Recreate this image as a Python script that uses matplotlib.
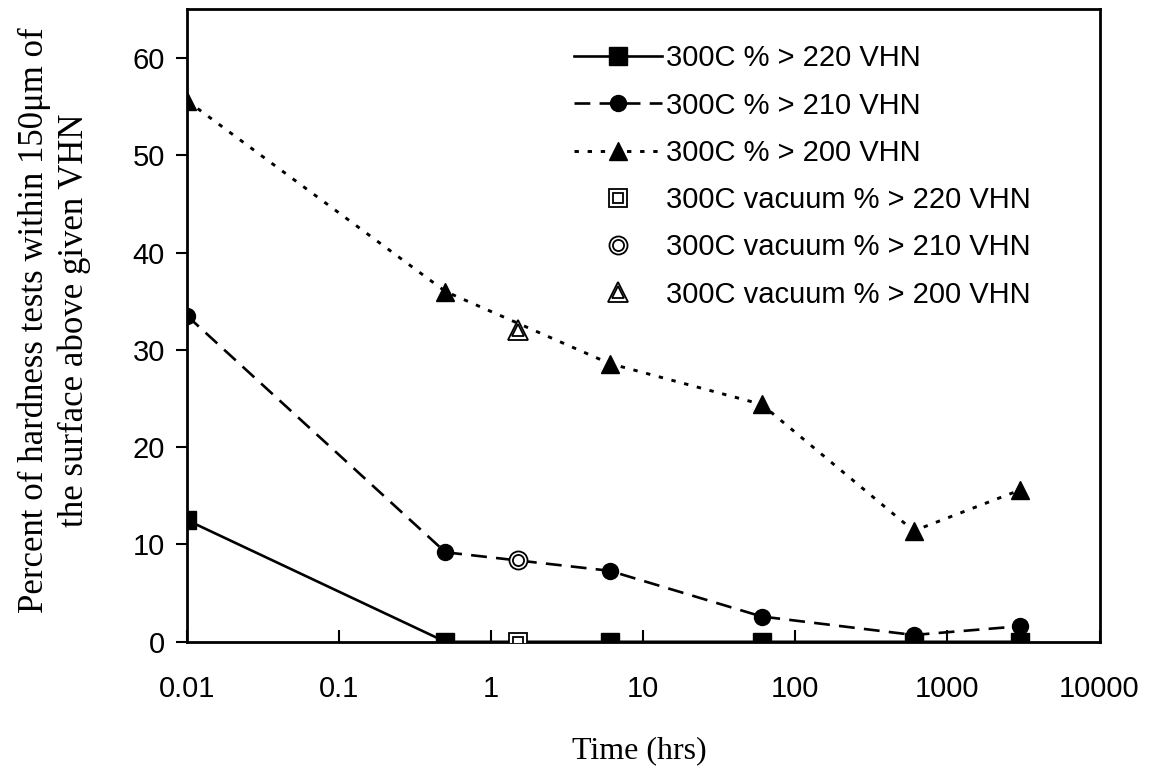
import matplotlib
matplotlib.use('Agg')
import matplotlib.pyplot as plt
from matplotlib.legend_handler import HandlerTuple
from matplotlib.ticker import FixedLocator, FixedFormatter, NullLocator

# ── data ────────────────────────────────────────────────────────
time_hrs = [0.01, 0.5, 6, 60, 600, 3000]
pct_220 = [12.5, 0.0, 0.0, 0.0, 0.0, 0.0]
pct_210 = [33.5, 9.2, 7.3, 2.6, 0.7, 1.6]
pct_200 = [55.6, 36.0, 28.6, 24.4, 11.4, 15.6]

vac_time = [1.5]
vac_220 = [0.0]
vac_210 = [8.4]
vac_200 = [32.0]

xticks = [0.01, 0.1, 1, 10, 100, 1000, 10000]
xtick_labels = ['0.01', '0.1', '1', '10', '100', '1000', '10000']
yticks = [0, 10, 20, 30, 40, 50, 60]

sans = ['Liberation Sans', 'DejaVu Sans']
serif = ['Liberation Serif', 'DejaVu Serif']

fig = plt.figure(figsize=(11.55, 7.77), dpi=100)
fig.patch.set_facecolor('white')
ax = fig.add_axes([0.162, 0.174, 0.790, 0.814])

lw = 1.9
l1, = ax.plot(time_hrs, pct_220, color='black', lw=lw, ls='-',
              marker='s', ms=12.5, mfc='black', mec='black', zorder=3)
l2, = ax.plot(time_hrs, pct_210, color='black', lw=lw, dashes=(6, 3.5),
              marker='o', ms=11.5, mfc='black', mec='black', zorder=3)
l3, = ax.plot(time_hrs, pct_200, color='black', lw=2.1, dashes=(1.5, 3.0),
              marker='^', ms=13, mfc='black', mec='black', zorder=3)

# vacuum points: double-outlined open markers
def double_marker(x, y, m, big, small):
    outer, = ax.plot(x, y, ls='none', marker=m, ms=big, mfc='white',
                     mec='black', mew=1.3, zorder=4)
    inner, = ax.plot(x, y, ls='none', marker=m, ms=small, mfc='none',
                     mec='black', mew=1.3, zorder=5)
    return (outer, inner)

v1 = double_marker(vac_time, vac_220, 's', 13, 7.5)
v2 = double_marker(vac_time, vac_210, 'o', 13, 8)
v3 = double_marker(vac_time, vac_200, '^', 15, 8)

ax.set_xscale('log')
ax.set_xlim(0.01, 10000)
ax.set_ylim(0, 65)
ax.xaxis.set_major_locator(FixedLocator(xticks))
ax.xaxis.set_major_formatter(FixedFormatter(xtick_labels))
ax.xaxis.set_minor_locator(NullLocator())
ax.set_yticks(yticks)

ax.tick_params(axis='x', direction='in', length=9, width=1.5, pad=24,
               labelsize=21)
ax.tick_params(axis='y', direction='out', length=8, width=1.5, pad=8,
               labelsize=21)
for lab in ax.get_xticklabels() + ax.get_yticklabels():
    lab.set_family(sans)
for sp in ax.spines.values():
    sp.set_linewidth(2)

ax.set_xlabel('Time (hrs)', fontsize=23, family=serif)
ax.xaxis.set_label_coords(0.496, -0.15)

# y label placed in figure coords so it stays inside the canvas
fig.text(54 / 1155, 1 - 320 / 777,
         'Percent of hardness tests within 150\u03bcm of\nthe surface above given VHN',
         rotation=90, ha='center', va='center', multialignment='center',
         fontsize=25, family=serif, linespacing=1.25)

handles = [l1, l2, l3, v1, v2, v3]
labels = ['300C % > 220 VHN', '300C % > 210 VHN', '300C % > 200 VHN',
          '300C vacuum % > 220 VHN', '300C vacuum % > 210 VHN',
          '300C vacuum % > 200 VHN']
leg = fig.legend(handles, labels, loc='upper left',
                 bbox_to_anchor=(0.497, 0.943), bbox_transform=fig.transFigure,
                 frameon=False, borderpad=0, borderaxespad=0,
                 handlelength=3.0, handletextpad=0.15, labelspacing=0.66,
                 prop={'family': sans, 'size': 21},
                 handler_map={tuple: HandlerTuple(ndivide=1)})

plt.savefig('out.png', dpi=100, facecolor='white')
plt.close()
